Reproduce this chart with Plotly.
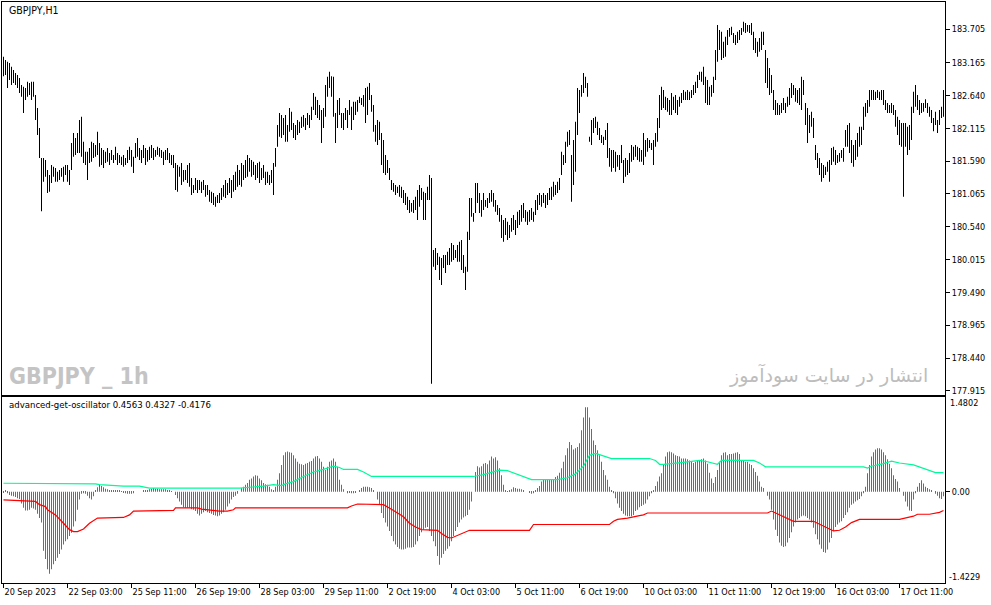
import plotly.graph_objects as go

# ---------------- data ----------------
bar_high = [
183.26,183.21,183.18,183.16,183.10,183.05,183.00,182.97,182.92,182.81,
182.78,182.76,182.86,182.84,182.86,182.86,182.65,182.44,182.12,181.64,
181.64,181.61,181.45,181.37,181.53,181.50,181.48,181.42,181.45,181.48,
181.50,181.53,181.53,181.45,181.88,182.04,181.96,182.04,182.25,182.30,
181.90,181.74,181.74,181.80,181.90,181.88,181.85,182.06,181.88,181.80,
181.77,181.74,181.80,181.72,181.77,181.69,181.82,181.72,181.69,181.66,
181.69,181.64,181.77,181.82,181.77,181.66,181.88,181.96,181.80,181.77,
181.85,181.80,181.77,181.82,181.85,181.80,181.77,181.82,181.80,181.77,
181.74,181.77,181.80,181.72,181.69,181.69,181.56,181.53,181.50,181.56,
181.45,181.45,181.53,181.56,181.32,181.21,181.32,181.29,181.29,181.26,
181.29,181.21,181.21,181.13,181.10,181.08,181.02,181.05,181.08,181.16,
181.21,181.29,181.24,181.32,181.29,181.37,181.42,181.53,181.45,181.56,
181.53,181.61,181.69,181.64,181.61,181.58,181.53,181.56,181.58,181.48,
181.53,181.42,181.42,181.37,181.45,181.56,181.80,182.17,182.36,182.33,
182.28,182.33,182.17,182.44,182.38,182.20,182.17,182.25,182.22,182.30,
182.33,182.28,182.36,182.33,182.46,182.68,182.62,182.57,182.49,182.41,
182.44,182.81,182.94,183.02,182.95,182.94,182.36,182.57,182.60,182.36,
182.36,182.44,182.41,182.57,182.46,182.54,182.54,182.57,182.62,182.60,
182.65,182.76,182.78,182.84,182.65,182.49,182.17,182.25,182.22,182.04,
181.93,181.69,181.61,181.48,181.29,181.24,181.21,181.18,181.21,181.18,
181.13,181.08,181.02,180.97,180.92,180.97,181.02,181.13,181.21,181.16,
181.10,181.08,181.18,181.37,181.32,180.17,180.20,180.12,180.06,180.04,
180.09,180.09,180.14,180.20,180.28,180.25,180.17,180.25,180.30,180.33,
180.09,179.90,180.46,181.00,181.00,180.76,181.24,181.24,181.08,180.97,
181.08,180.97,181.00,181.08,181.13,181.08,180.97,180.89,180.84,180.73,
180.65,180.68,180.62,180.57,180.68,180.73,180.65,180.78,180.81,180.89,
180.92,180.81,180.78,180.81,180.84,180.78,180.97,181.05,181.08,181.05,
181.08,181.05,181.08,181.16,181.18,181.26,181.21,181.26,181.32,181.74,
181.69,181.90,182.06,182.09,181.69,181.93,182.22,182.76,182.73,182.81,
183.00,182.94,182.84,181.98,182.25,182.28,182.30,182.22,182.12,182.01,
181.98,182.09,182.20,181.80,181.77,181.77,181.74,181.69,181.69,181.85,
181.61,181.64,181.61,181.72,181.85,181.82,181.85,181.82,181.80,181.77,
182.04,181.93,181.96,181.93,181.88,181.93,182.04,182.28,182.65,182.78,
182.73,182.62,182.60,182.57,182.68,182.62,182.65,182.57,182.62,182.68,
182.73,182.70,182.73,182.70,182.73,182.81,182.86,182.97,183.02,183.02,
183.10,182.94,182.89,182.78,182.81,182.94,183.37,183.77,183.69,183.66,
183.50,183.58,183.69,183.72,183.74,183.64,183.61,183.66,183.69,183.72,
183.82,183.80,183.77,183.77,183.80,183.66,183.56,183.50,183.56,183.66,
183.66,183.37,183.24,183.08,182.97,182.73,182.57,182.52,182.49,182.52,
182.60,182.52,182.62,182.76,182.84,182.81,182.76,182.73,182.76,182.94,
182.89,182.52,182.44,182.33,182.38,182.28,181.85,181.72,181.64,181.56,
181.53,181.50,181.58,181.61,181.80,181.82,181.77,181.69,181.72,181.77,
181.80,182.09,182.17,182.20,181.93,181.85,181.93,182.04,182.14,182.14,
182.46,182.52,182.57,182.73,182.73,182.73,182.70,182.73,182.70,182.73,
182.73,182.57,182.52,182.49,182.52,182.49,182.41,182.30,182.25,182.20,
182.20,182.20,182.14,182.17,182.46,182.70,182.81,182.65,182.57,182.52,
182.52,182.58,182.52,182.46,182.41,182.28,182.38,182.25,182.41,182.46,
182.73]

bar_low = [
182.95,182.97,182.76,182.89,182.81,182.84,182.81,182.76,182.68,182.62,
182.36,182.57,182.62,182.65,182.57,182.62,182.25,182.01,181.64,180.79,
181.26,181.34,181.08,181.10,181.24,181.34,181.26,181.26,181.29,181.34,
181.26,181.37,181.26,181.21,181.45,181.66,181.69,181.72,181.72,181.66,
181.56,181.53,181.29,181.56,181.58,181.64,181.66,181.69,181.50,181.53,
181.48,181.56,181.58,181.53,181.61,181.56,181.61,181.53,181.56,181.53,
181.50,181.53,181.56,181.61,181.50,181.40,181.64,181.66,181.61,181.56,
181.64,181.53,181.58,181.61,181.64,181.61,181.66,181.69,181.66,181.64,
181.53,181.61,181.61,181.56,181.53,181.48,181.13,181.10,181.34,181.21,
181.26,181.29,181.24,181.18,181.05,181.08,181.13,181.08,181.13,181.08,
181.13,181.02,181.05,180.94,180.92,180.89,180.86,180.92,180.92,180.97,
181.02,181.00,181.05,181.08,181.00,181.10,181.13,181.18,181.21,181.18,
181.29,181.32,181.34,181.42,181.34,181.37,181.29,181.32,181.24,181.29,
181.32,181.21,181.24,181.21,181.24,181.05,181.50,181.82,181.98,181.96,
182.01,181.90,181.90,182.06,182.09,181.96,181.93,182.01,182.04,182.12,
182.14,182.09,182.17,182.12,182.25,182.41,182.33,182.28,182.25,181.88,
182.12,182.30,182.62,182.76,182.62,182.30,181.88,182.12,182.33,182.12,
182.09,182.25,182.12,182.33,182.09,182.25,182.33,182.38,182.52,182.49,
182.46,182.20,182.33,182.57,182.38,182.06,181.90,181.85,181.93,181.53,
181.40,181.37,181.40,181.29,181.13,181.10,181.05,181.08,181.02,181.00,
180.92,180.89,180.81,180.76,180.78,180.76,180.81,180.65,180.86,180.97,
180.65,180.65,180.97,180.97,178.03,179.90,179.85,179.93,179.69,179.61,
179.88,179.80,179.93,179.93,179.98,180.01,180.04,179.98,179.98,179.85,
179.80,179.53,179.82,180.33,180.70,180.62,180.76,180.92,180.76,180.70,
180.81,180.86,180.84,180.92,180.94,180.86,180.78,180.73,180.62,180.36,
180.30,180.41,180.33,180.36,180.46,180.49,180.41,180.52,180.57,180.62,
180.68,180.62,180.57,180.62,180.65,180.62,180.73,180.81,180.89,180.86,
180.92,180.84,180.89,180.97,180.97,181.02,181.05,181.08,181.13,181.37,
181.53,181.56,181.82,181.85,180.94,181.21,181.42,182.01,182.36,182.62,
182.68,182.76,182.62,181.90,181.85,182.04,182.12,182.01,181.93,181.88,
181.85,181.93,181.64,181.50,181.42,181.48,181.42,181.50,181.45,181.56,
181.24,181.34,181.37,181.40,181.58,181.61,181.66,181.61,181.58,181.58,
181.53,181.66,181.74,181.80,181.77,181.53,181.82,181.90,182.12,182.41,
182.44,182.41,182.38,182.33,182.33,182.41,182.36,182.33,182.46,182.52,
182.57,182.57,182.57,182.57,182.60,182.65,182.68,182.76,182.89,182.86,
182.81,182.52,182.49,182.49,182.62,182.68,182.89,183.18,183.37,183.21,
183.24,183.26,183.45,183.58,183.61,183.48,183.45,183.48,183.53,183.61,
183.66,183.64,183.66,183.64,183.61,183.37,183.32,183.26,183.34,183.37,
183.45,182.84,182.76,182.65,182.68,182.41,182.33,182.33,182.33,182.36,
182.41,182.36,182.46,182.49,182.60,182.65,182.54,182.52,182.49,182.41,
182.65,182.17,181.88,182.04,182.14,181.96,181.61,181.48,181.37,181.26,
181.32,181.37,181.42,181.26,181.53,181.58,181.53,181.56,181.58,181.64,
181.58,181.82,181.82,181.72,181.56,181.50,181.61,181.66,181.82,181.85,
182.09,182.30,182.36,182.46,182.57,182.57,182.57,182.60,182.57,182.57,
182.49,182.41,182.36,182.36,182.36,182.33,182.14,182.01,181.85,181.82,
181.02,181.82,181.69,181.77,181.93,182.36,182.46,182.41,182.33,182.36,
182.38,182.44,182.36,182.30,182.20,182.07,182.17,182.04,182.17,182.28,
182.30]

hist = [
-0.01,0.02,-0.02,-0.05,-0.06,-0.07,-0.08,-0.10,-0.11,-0.18,
-0.25,-0.29,-0.29,-0.28,-0.25,-0.26,-0.28,-0.34,-0.41,-0.48,
-0.92,-1.05,-1.21,-1.28,-1.21,-1.13,-1.08,-1.03,-0.97,-0.90,
-0.82,-0.77,-0.74,-0.69,-0.64,-0.54,-0.46,-0.28,-0.12,-0.03,
-0.02,-0.03,-0.06,-0.10,-0.12,-0.07,0.03,0.07,0.11,0.09,
0.07,0.05,0.04,0.03,0.02,0.03,0.02,0.03,0.02,0.01,
-0.01,-0.02,-0.03,-0.03,-0.03,-0.02,0.00,0.00,0.00,0.00,
0.02,0.03,0.02,0.04,0.05,0.06,0.05,0.05,0.04,0.04,
0.04,0.04,0.03,0.02,0.01,0.00,-0.05,-0.10,-0.15,-0.20,
-0.24,-0.25,-0.25,-0.25,-0.27,-0.28,-0.30,-0.34,-0.37,-0.34,
-0.32,-0.30,-0.32,-0.33,-0.34,-0.36,-0.37,-0.38,-0.37,-0.34,
-0.32,-0.28,-0.23,-0.18,-0.12,-0.08,-0.06,-0.03,0.00,0.06,
0.08,0.11,0.14,0.19,0.21,0.24,0.26,0.25,0.21,0.18,
0.14,0.12,0.11,0.08,0.04,0.03,0.08,0.19,0.29,0.42,
0.57,0.62,0.63,0.62,0.61,0.57,0.52,0.47,0.44,0.43,
0.42,0.44,0.45,0.47,0.48,0.52,0.55,0.56,0.52,0.47,
0.39,0.34,0.39,0.47,0.49,0.52,0.47,0.39,0.19,0.11,
0.04,0.00,-0.02,-0.01,-0.02,-0.02,-0.01,0.00,0.03,0.06,
0.08,0.08,0.08,0.07,0.06,0.02,0.00,-0.12,-0.20,-0.33,
-0.41,-0.48,-0.54,-0.61,-0.69,-0.77,-0.82,-0.86,-0.89,-0.90,
-0.90,-0.89,-0.87,-0.87,-0.87,-0.86,-0.82,-0.77,-0.69,-0.63,
-0.59,-0.56,-0.55,-0.61,-0.69,-0.77,-0.85,-1.00,-1.14,-1.03,
-0.97,-0.92,-0.89,-0.85,-0.77,-0.69,-0.61,-0.55,-0.48,-0.43,
-0.40,-0.38,-0.36,-0.28,-0.15,0.00,0.31,0.40,0.38,0.40,
0.44,0.45,0.43,0.49,0.55,0.52,0.54,0.49,0.37,0.26,
0.11,0.03,0.01,0.02,0.04,0.07,0.06,0.05,0.05,0.04,
0.02,0.00,0.00,-0.01,-0.03,-0.02,0.03,0.06,0.09,0.16,
0.19,0.20,0.20,0.20,0.19,0.19,0.23,0.25,0.30,0.37,
0.47,0.57,0.68,0.78,0.73,0.66,0.68,0.70,0.76,0.96,
1.16,1.32,1.32,1.16,0.98,0.80,0.73,0.65,0.57,0.47,
0.34,0.26,0.19,0.08,0.03,-0.02,-0.10,-0.18,-0.25,-0.30,
-0.34,-0.37,-0.38,-0.38,-0.38,-0.36,-0.30,-0.28,-0.24,-0.22,
-0.20,-0.18,-0.12,-0.07,-0.02,0.03,0.09,0.16,0.24,0.29,
0.42,0.55,0.62,0.63,0.62,0.60,0.57,0.56,0.55,0.52,
0.52,0.52,0.51,0.49,0.47,0.45,0.47,0.48,0.49,0.51,
0.52,0.49,0.44,0.30,0.21,0.14,0.23,0.34,0.47,0.57,
0.61,0.62,0.57,0.59,0.59,0.60,0.61,0.62,0.59,0.49,
0.48,0.47,0.47,0.44,0.42,0.37,0.31,0.25,0.16,0.08,
0.06,0.00,-0.06,-0.12,-0.28,-0.43,-0.59,-0.69,-0.79,-0.84,
-0.86,-0.85,-0.79,-0.72,-0.63,-0.54,-0.48,-0.43,-0.41,-0.38,
-0.37,-0.38,-0.41,-0.43,-0.48,-0.56,-0.66,-0.74,-0.82,-0.89,
-0.94,-0.95,-0.90,-0.79,-0.72,-0.61,-0.55,-0.51,-0.48,-0.46,
-0.41,-0.36,-0.32,-0.25,-0.20,-0.18,-0.15,-0.13,-0.11,-0.07,
-0.02,0.08,0.29,0.42,0.55,0.62,0.66,0.68,0.68,0.66,
0.62,0.57,0.51,0.44,0.37,0.26,0.20,0.16,0.06,0.00,
-0.06,-0.15,-0.23,-0.29,-0.30,-0.12,-0.02,0.08,0.14,0.18,
0.13,0.08,0.06,0.04,0.02,0.00,-0.03,-0.06,-0.10,-0.11,
-0.07]

# signal lines: vertices (bar index, value)
green_idx = [0, 30, 46, 48, 58, 60, 68, 73, 118, 125, 130, 135, 136, 139, 141, 145, 150, 155, 160, 163,
             165, 168, 170, 177, 180, 184, 235, 240, 245, 248, 252, 256, 260, 264, 277, 282, 286, 290, 293,
             296, 298, 302, 304, 323, 326, 328, 330, 340, 348, 352, 355, 357, 359, 375, 378, 381, 430, 432,
             434, 440, 444, 448, 455, 460, 463, 466, 470]
green_val = [0.134, 0.134, 0.124, 0.113, 0.093, 0.088, 0.088, 0.057, 0.057, 0.07, 0.09, 0.113, 0.108, 0.098,
             0.124, 0.16, 0.24, 0.31, 0.35, 0.38, 0.40, 0.38, 0.35, 0.35, 0.31, 0.24, 0.24, 0.27, 0.31, 0.34,
             0.33, 0.28, 0.23, 0.19, 0.19, 0.22, 0.28, 0.40, 0.57, 0.60, 0.58, 0.54, 0.52, 0.52, 0.49, 0.43,
             0.43, 0.46, 0.49, 0.47, 0.45, 0.43, 0.49, 0.49, 0.45, 0.39, 0.39, 0.37, 0.40, 0.44, 0.48, 0.45,
             0.42, 0.37, 0.34, 0.30, 0.30]

red_idx = [0, 16, 18, 21, 22, 26, 30, 33, 35, 37, 40, 43, 47, 60, 63, 65, 85, 86, 97, 99, 108, 112, 115, 116,
           172, 174, 177, 188, 190, 195, 200, 203, 206, 209, 217, 219, 222, 224, 227, 230, 233, 263, 265, 303,
           305, 307, 312, 318, 320, 322, 382, 384, 386, 390, 395, 405, 409, 413, 415, 418, 421, 424, 428, 448,
           451, 455, 457, 463, 468, 470]
red_val = [-0.124, -0.15, -0.20, -0.23, -0.28, -0.36, -0.49, -0.59, -0.62, -0.62, -0.58, -0.49, -0.41, -0.40,
           -0.36, -0.30, -0.29, -0.25, -0.25, -0.27, -0.30, -0.30, -0.28, -0.25, -0.25, -0.22, -0.19, -0.19,
           -0.20, -0.29, -0.39, -0.49, -0.55, -0.59, -0.60, -0.65, -0.71, -0.72, -0.68, -0.64, -0.60, -0.60,
           -0.51, -0.51, -0.46, -0.43, -0.41, -0.37, -0.36, -0.33, -0.33, -0.30, -0.33, -0.39, -0.46, -0.46,
           -0.52, -0.59, -0.61, -0.60, -0.55, -0.48, -0.43, -0.43, -0.41, -0.38, -0.35, -0.35, -0.32, -0.29]

date_tick_idx = [0, 32, 64, 96, 128, 160, 192, 224, 256, 288, 320, 352, 384, 416, 448]
date_tick_text = ["20 Sep 2023", "22 Sep 03:00", "25 Sep 11:00", "26 Sep 19:00", "28 Sep 03:00",
                  "29 Sep 11:00", "2 Oct 19:00", "4 Oct 03:00", "5 Oct 11:00", "6 Oct 19:00",
                  "10 Oct 03:00", "11 Oct 11:00", "12 Oct 19:00", "16 Oct 03:00", "17 Oct 11:00"]

price_ticks = [183.705, 183.165, 182.640, 182.115, 181.590, 181.065,
               180.540, 180.015, 179.490, 178.965, 178.440, 177.915]
price_tick_text = ["183.705", "183.165", "182.640", "182.115", "181.590", "181.065",
                   "180.540", "180.015", "179.490", "178.965", "178.440", "177.915"]

osc_max = 1.4802
osc_min = -1.4229
osc_zero_text = "0.00"

symbol_label = "GBPJPY,H1"
indicator_label = "advanced-get-oscillator 0.4563 0.4327 -0.4176"
watermark_left = "GBPJPY _ 1h"
watermark_right = "انتشار در سایت سودآموز"

# ---------------- figure ----------------
FONT = "DejaVu Sans Condensed, Liberation Sans, sans-serif"
idx = list(range(len(bar_high)))
bar_len = [h - l for h, l in zip(bar_high, bar_low)]

fig = go.Figure()
fig.add_trace(go.Bar(x=idx, base=bar_low, y=bar_len, width=0.42,
                     marker=dict(color="black", line=dict(width=0)),
                     xaxis="x", yaxis="y", hoverinfo="skip"))
fig.add_trace(go.Bar(x=idx, y=hist, width=0.42,
                     marker=dict(color="#6A5ACD", line=dict(width=0)),
                     xaxis="x2", yaxis="y2", hoverinfo="skip"))
fig.add_trace(go.Scatter(x=green_idx, y=green_val, mode="lines",
                         line=dict(color="#00FA9A", width=1.2),
                         xaxis="x2", yaxis="y2", hoverinfo="skip"))
fig.add_trace(go.Scatter(x=red_idx, y=red_val, mode="lines",
                         line=dict(color="#FF0000", width=1.2),
                         xaxis="x2", yaxis="y2", hoverinfo="skip"))

xr = [-0.75, 470.75]
axis_common = dict(showline=True, mirror=True, linecolor="black", linewidth=1,
                   showgrid=False, zeroline=False)
tickfont = dict(family=FONT, size=9, color="black")

fig.update_layout(
    width=991, height=605,
    margin=dict(l=2, r=46, t=2, b=22),
    paper_bgcolor="white", plot_bgcolor="white",
    showlegend=False, barmode="overlay",
    xaxis=dict(domain=[0, 1], anchor="y", range=xr, showticklabels=False, ticks="", **axis_common),
    yaxis=dict(domain=[0.3236, 1], anchor="x", side="right", range=[177.849, 184.137],
               tickvals=price_ticks, ticktext=price_tick_text, ticks="outside", ticklen=4,
               tickcolor="black", tickfont=tickfont, **axis_common),
    xaxis2=dict(domain=[0, 1], anchor="y2", range=xr, tickvals=date_tick_idx, ticktext=date_tick_text,
                ticks="outside", ticklen=4, tickcolor="black", ticklabelposition="outside right",
                tickfont=tickfont, **axis_common),
    yaxis2=dict(domain=[0, 0.3201], anchor="x2", side="right", range=[osc_min, osc_max],
                tickvals=[0], ticktext=[osc_zero_text], ticks="outside", ticklen=4,
                tickcolor="black", tickfont=tickfont, **axis_common),
)

ann = [
    dict(text=symbol_label, x=0.0053, y=0.9862, xanchor="left", yanchor="middle",
         font=dict(family=FONT, size=10.5, color="black")),
    dict(text=indicator_label, x=0.0053, y=0.3064, xanchor="left", yanchor="middle",
         font=dict(family=FONT, size=9.5, color="black")),
    dict(text="<b>" + watermark_left + "</b>", x=0.0055, y=0.3563, xanchor="left", yanchor="middle",
         font=dict(family="Liberation Sans Narrow, DejaVu Sans Condensed, sans-serif", size=23, color="#C4C4C4")),
    dict(text=watermark_right, x=0.9841, y=0.358, xanchor="right", yanchor="middle",
         font=dict(family="DejaVu Sans, sans-serif", size=19, color="#BDBDBD")),
    dict(text=f"{osc_max:.4f}", x=1.0032, y=0.3098, xanchor="left", yanchor="middle",
         font=tickfont),
    dict(text=f"{osc_min:.4f}", x=1.0021, y=0.0103, xanchor="left", yanchor="middle",
         font=tickfont),
]
for a in ann:
    a.update(xref="paper", yref="paper", showarrow=False)
fig.update_layout(annotations=ann)

fig.write_html("out.html", config={"displayModeBar": False},
               post_script="document.body.style.margin='0px';document.body.style.overflow='hidden';")
